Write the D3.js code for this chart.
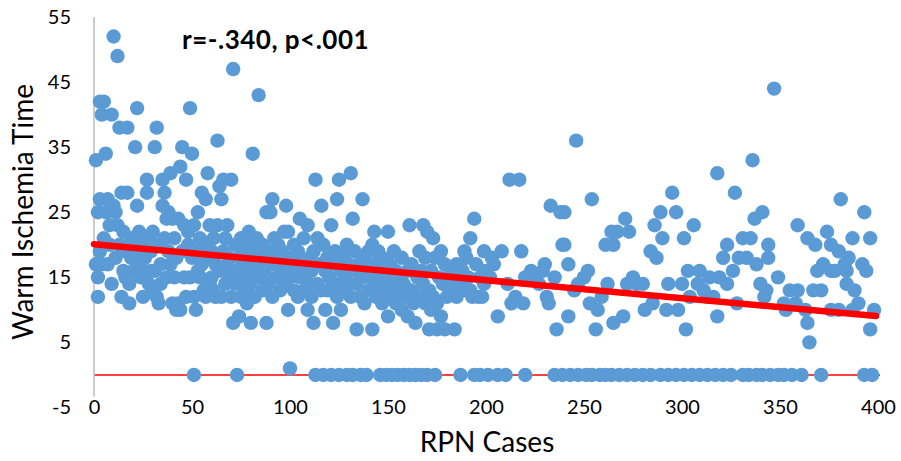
<!DOCTYPE html>
<html><head><meta charset="utf-8">
<script src="https://cdn.jsdelivr.net/npm/d3@7"></script>
<style>body{margin:0;background:#fff}svg{display:block}</style>
</head><body>
<svg id="chart" width="901" height="461"></svg>
<script>
// [case number, warm ischemia time]
const casesA = [[1,33],[1,17],[2,15],[2,12],[2,25],[3,42],[3,19],[3,27],[4,40],[4,17],[5,42],[5,21],[6,34],[6,25],[7,27],[7,17],[8,23],[8,20],[9,40],[9,14],[10,52],[10,26],[11,25],[11,18],[12,49],[12,23],[13,38],[13,20],[14,28],[14,12],[15,22],[15,16],[16,15],[16,19],[17,38],[17,28],[18,14],[18,11],[19,21],[19,18],[20,16],[20,20],[21,35],[21,21],[22,41],[22,26],[23,22],[23,17],[24,19],[24,15],[25,16],[25,12],[26,20],[26,18],[27,30],[27,28],[28,14],[28,21],[29,16],[29,19],[30,22],[30,13],[31,35],[31,16],[32,38],[32,12],[33,11],[33,20],[34,17],[34,14],[35,30],[35,26],[36,28],[36,21],[37,24],[37,15],[38,25],[38,19],[39,31],[39,17],[40,24],[40,11],[41,21],[41,15],[42,10],[42,18],[43,24],[43,11],[44,32],[44,10],[45,35],[45,19],[46,23],[46,15],[47,30],[47,12],[48,22],[48,20],[49,41],[49,15],[50,34],[50,18]];
const casesB = [[51,0],[51,23],[51,12],[52,10],[52,19],[53,25],[53,16],[54,15],[54,21],[55,28],[55,17],[56,13],[56,20],[57,27],[57,12],[58,31],[58,18],[59,23],[59,14],[60,15],[60,19],[61,21],[61,13],[62,12],[62,17],[63,36],[63,23],[64,29],[64,16],[65,27],[65,12],[66,30],[66,19],[67,14],[67,21],[68,23],[68,17],[69,15],[69,18],[70,30],[70,12],[71,8],[71,47],[72,20],[72,14],[73,0],[73,16],[74,9],[74,18],[75,12],[75,21],[76,15],[76,19],[77,13],[77,17],[78,20],[78,11],[79,22],[79,16],[80,8],[80,14],[81,34],[81,19],[82,17],[82,12],[83,21],[84,43],[84,15],[85,18],[86,13],[86,20],[87,16],[88,25],[88,8],[89,19],[89,14],[90,25],[90,17],[91,27],[91,12],[92,21],[93,15],[93,18],[94,20],[95,13],[95,16],[96,19],[97,22],[97,14],[98,26],[98,17],[99,22],[99,10],[100,1],[100,15],[101,18],[102,13],[102,20],[103,16],[104,12],[104,19],[105,24],[105,15],[106,17],[107,13],[107,21],[108,16],[109,23],[109,10],[110,14],[110,18]];
const casesC = [[111,16],[111,12],[112,8],[112,19],[113,0],[113,30],[114,14],[114,21],[115,17],[116,26],[116,13],[117,0],[117,20],[118,10],[118,16],[119,18],[119,13],[120,15],[121,0],[121,23],[122,8],[122,17],[123,14],[123,19],[124,27],[124,12],[125,0],[125,30],[126,10],[126,16],[127,18],[127,13],[128,19],[128,15],[129,0],[129,20],[130,14],[130,17],[131,31],[131,12],[132,0],[132,24],[133,16],[133,19],[134,7],[134,14],[135,17],[136,0],[136,12],[137,27],[137,15],[138,18],[138,11],[139,0],[139,16],[140,13],[140,19],[141,15],[142,7],[142,20],[143,22],[143,17],[144,12],[145,14],[145,19],[146,0],[146,16],[147,11],[147,18],[148,13],[149,0],[149,15],[150,22],[150,9],[151,17],[151,12],[152,0],[152,14],[153,19],[154,11],[154,16],[155,0],[155,13],[156,15],[157,18],[157,10],[158,0],[158,14],[159,12],[160,16],[160,9],[161,0],[161,23],[162,13],[162,17],[163,11],[164,0],[164,8],[165,15],[166,19],[166,12],[167,0],[167,16],[168,23],[168,14],[169,18],[169,11],[170,0],[170,22],[171,7],[171,13],[172,10],[172,16],[173,21],[173,12],[174,0],[174,18],[175,7],[175,11],[176,15],[177,9],[177,19],[178,14],[179,7],[179,17],[180,12],[181,15],[182,13],[182,16],[183,14],[184,7],[185,17],[185,12],[186,15],[187,0],[187,14],[188,16],[189,19],[189,13],[190,18],[191,15],[192,21],[192,13],[193,12],[194,0],[194,24],[195,17],[196,12],[197,0],[197,15],[198,12],[199,14],[199,19],[200,16]];
const casesD = [[201,0],[202,15],[203,18],[204,17],[206,0],[206,9],[208,19],[210,0],[211,14],[212,30],[213,11],[215,12],[217,30],[218,19],[219,11],[220,0],[220,15],[223,16],[225,15],[227,14],[229,16],[230,17],[231,12],[232,11],[233,26],[235,0],[235,15],[236,7],[238,25],[239,0],[239,20],[240,25],[240,20],[242,17],[242,9],[243,0],[245,13],[246,36],[247,0],[247,14],[250,15],[251,0],[252,16],[253,11],[254,0],[254,27],[256,7],[257,10],[258,0],[259,12],[261,0],[261,20],[262,14],[264,0],[264,22],[265,20],[265,8],[267,22],[268,0],[270,9],[271,24],[272,0],[272,14],[273,22],[275,15],[276,0],[277,14],[280,0],[280,14],[281,10],[284,0],[284,19],[285,11],[286,23],[287,18],[289,0],[289,25],[290,21],[292,10],[293,0],[293,14],[295,28],[297,0],[297,25],[298,10],[300,14]];
const casesE = [[301,0],[301,21],[302,7],[303,16],[304,12],[305,0],[306,23],[308,14],[309,0],[309,16],[311,13],[313,0],[313,12],[314,15],[316,12],[317,0],[318,31],[318,9],[319,15],[321,0],[321,18],[323,20],[323,14],[325,0],[326,16],[327,28],[328,11],[329,18],[331,0],[331,21],[333,18],[334,0],[335,21],[336,33],[337,24],[338,0],[338,17],[340,14],[341,0],[341,25],[342,12],[343,13],[344,20],[344,18],[345,0],[347,44],[349,0],[349,15],[352,0],[352,11],[353,10],[355,13],[356,0],[358,11],[359,23],[359,13],[361,0],[363,10],[364,21],[364,8],[365,5],[367,13],[368,20],[369,16],[371,0],[371,13],[372,17],[374,22],[376,20],[376,16],[376,10],[378,16],[380,19],[380,10],[381,27],[383,17],[384,16],[384,14],[385,18],[387,21],[387,10],[388,13],[390,11],[392,17],[393,0],[393,25],[394,16],[396,21],[396,7],[397,0],[398,10]];

const xTicks = [0,50,100,150,200,250,300,350,400];
const yTicks = [-5,5,15,25,35,45,55];
const trendX = [0,399];
const trendY = [20.1,9.06];
const xTitle = "RPN Cases";
const yTitle = "Warm Ischemia Time";
const note = "r=-.340, p<.001";

const points = [].concat(casesA, casesB, casesC, casesD, casesE);
const svg = d3.select("#chart");
const font = "Lato, 'Open Sans', sans-serif";
const x = d3.scaleLinear().domain([0,400]).range([94,878]);
const y = d3.scaleLinear().domain([-5,55]).range([407.5,17]);

// zero reference line (horizontal axis at 0)
svg.append("line")
  .attr("x1", x(0)).attr("x2", x(400)+2)
  .attr("y1", y(0)).attr("y2", y(0))
  .attr("stroke", "#FF0000").attr("stroke-width", 1.6);

// vertical axis line
svg.append("line")
  .attr("x1", x(0)).attr("x2", x(0))
  .attr("y1", y(55)).attr("y2", y(-3.3))
  .attr("stroke", "#BFBFBF").attr("stroke-width", 1.6);

// y axis labels
const gy = svg.append("g").attr("transform", `translate(${x(0)},0)`)
  .call(d3.axisLeft(y).tickValues(yTicks).tickFormat(d => String(d)).tickSize(0).tickPadding(23));
gy.select(".domain").remove();
gy.selectAll("text").attr("font-family", font).attr("font-size", 20).attr("fill", "#000");

// x axis labels
const gx = svg.append("g").attr("transform", `translate(0,396)`)
  .call(d3.axisBottom(x).tickValues(xTicks).tickFormat(d => String(d)).tickSize(0).tickPadding(4));
gx.select(".domain").remove();
gx.selectAll("text").attr("font-family", font).attr("font-size", 20).attr("fill", "#000");

// points
svg.append("g").selectAll("circle").data(points).join("circle")
  .attr("cx", d => x(d[0])).attr("cy", d => y(d[1])).attr("r", 7.2)
  .attr("fill", "#5B9BD5");

// trend line
svg.append("line")
  .attr("x1", x(trendX[0])).attr("y1", y(trendY[0]))
  .attr("x2", x(trendX[1])).attr("y2", y(trendY[1]))
  .attr("stroke", "#FF0000").attr("stroke-width", 6.5).attr("stroke-linecap", "round");

// titles
svg.append("text").attr("x", 487).attr("y", 452).attr("text-anchor", "middle")
  .attr("font-family", font).attr("font-size", 28).attr("fill", "#000").text(xTitle);
svg.append("text").attr("transform", "translate(33,212) rotate(-90)").attr("text-anchor", "middle")
  .attr("font-family", font).attr("font-size", 28).attr("fill", "#000").text(yTitle);
svg.append("text").attr("x", 182).attr("y", 49)
  .attr("font-family", font).attr("font-size", 26).attr("letter-spacing", 0.5)
  .attr("font-weight", "bold").attr("fill", "#000").text(note);
</script>
</body></html>
